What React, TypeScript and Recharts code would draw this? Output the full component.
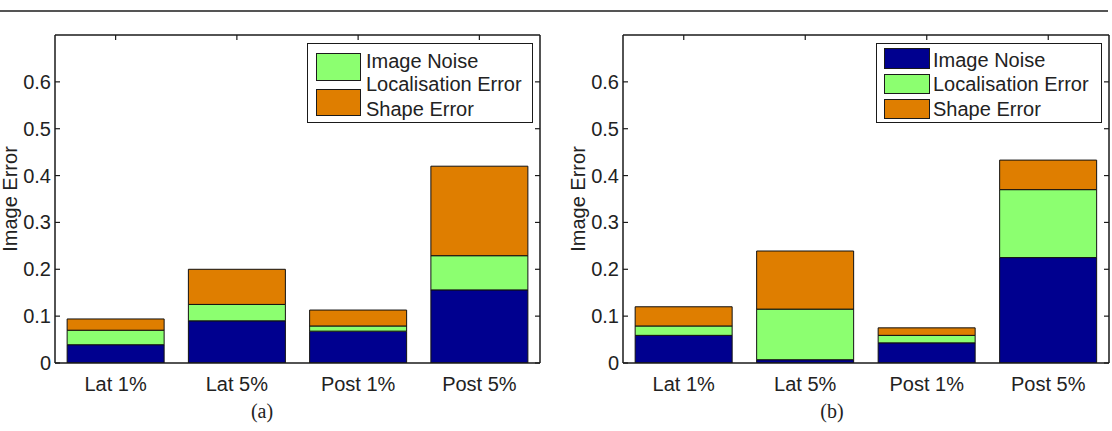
import React from "react";
import { BarChart, Bar, Line, XAxis, YAxis, Legend } from "recharts";

const categories = ["Lat 1%", "Lat 5%", "Post 1%", "Post 5%"];
const seriesNames = ["Image Noise", "Localisation Error", "Shape Error"];
const seriesColors = ["#00008F", "#8CFF70", "#DF7E00"];
const yTicks = [0, 0.1, 0.2, 0.3, 0.4, 0.5, 0.6];

// panel (a)
const noiseA = [0.039, 0.09, 0.068, 0.156];
const localA = [0.031, 0.035, 0.011, 0.073];
const shapeA = [0.024, 0.075, 0.034, 0.191];

// panel (b)
const noiseB = [0.059, 0.007, 0.043, 0.225];
const localB = [0.02, 0.108, 0.016, 0.145];
const shapeB = [0.041, 0.124, 0.016, 0.063];

const FONT = '"Liberation Sans", Arial, Helvetica, sans-serif';
const INK = "#1a1a1a";

const buildRows = (noise: number[], local: number[], shape: number[]) =>
    categories.map((name, i) => ({ name, noise: noise[i], local: local[i], shape: shape[i] }));

const LeftTick = (props: any) => {
    const { x, y, payload } = props;
    return <g>
        <line x1={x} x2={x + 5} y1={y} y2={y} stroke={INK} strokeWidth={1.2} />
        <text x={x - 4} y={y} textAnchor="end" dominantBaseline="central" fontSize={20} fontFamily={FONT} fill="#222">
            {String(payload.value)}
        </text>
    </g>;
};

const RightTick = (props: any) => {
    const { x, y } = props;
    return <line x1={x} x2={x - 5} y1={y} y2={y} stroke={INK} strokeWidth={1.2} />;
};

const TopTick = (props: any) => {
    const { x, y } = props;
    return <line x1={x} x2={x} y1={y} y2={y + 5} stroke={INK} strokeWidth={1.2} />;
};

const BottomTick = (props: any) => {
    const { x, y, payload } = props;
    return <text x={x} y={y + 21} textAnchor="middle" dominantBaseline="central" fontSize={20} fontFamily={FONT} fill="#222">
        {payload.value}
    </text>;
};

const YTitle = (props: any) => {
    const vb = props.viewBox;
    const cx = vb.x + vb.width - 45;
    const cy = vb.y + vb.height / 2;
    return <text x={cx} y={cy} transform={`rotate(-90, ${cx}, ${cy})`} textAnchor="middle" dominantBaseline="central"
        fontSize={20} fontFamily={FONT} fill="#222">Image Error</text>;
};

// legend rows; swatch boxes are placed per panel (panel a only shows two swatches)
type Swatch = { color: number; left: number; top: number; w: number; h: number };

const makeLegend = (swatches: Swatch[], textLeft: number, rowCentres: number[]) => (props: any) => {
    const payload = (props.payload || []).filter((p: any) => p.type !== "none");
    const colorOf = (i: number) => (payload[i] && payload[i].color) || seriesColors[i];
    return <div style={{ position: "relative", width: 226, height: 80, boxSizing: "border-box", border: `1.5px solid ${INK}`, background: "#fff", fontFamily: FONT, fontSize: 20, color: "#222" }}>
        {swatches.map((s, k) => <div key={k} style={{ position: "absolute", left: s.left, top: s.top, width: s.w, height: s.h, boxSizing: "border-box", background: colorOf(s.color), border: `1.5px solid ${INK}` }} />)}
        {seriesNames.map((n, i) => <div key={n} style={{ position: "absolute", left: textLeft, top: rowCentres[i] - 12, lineHeight: "24px", whiteSpace: "nowrap" }}>{n}</div>)}
    </div>;
};

const legendA = makeLegend([
    { color: 1, left: 8, top: 9, w: 45, h: 28 },
    { color: 2, left: 8, top: 45, w: 45, h: 27 },
], 58, [17, 40, 65]);

const legendB = makeLegend([
    { color: 0, left: 7, top: 4, w: 46, h: 21 },
    { color: 1, left: 7, top: 30, w: 46, h: 20 },
    { color: 2, left: 7, top: 55, w: 46, h: 20 },
], 56, [16, 40, 65]);

interface PanelProps {
    rows: any[];
    width: number;
    axisWidth: number;
    rightMargin: number;
    legendLeft: number;
    legend: (p: any) => React.ReactNode;
}

// top and right axes are 1px thick so they still render and close the frame
const Panel = ({ rows, width, axisWidth, rightMargin, legendLeft, legend }: PanelProps) => (
    <BarChart width={width} height={400} data={rows} barCategoryGap="10%"
        margin={{ top: 34, right: rightMargin - 1, bottom: 0, left: 0 }}>
        <XAxis dataKey="name" height={37} axisLine={{ stroke: INK, strokeWidth: 1.5 }} tickLine={false}
            tickSize={0} tickMargin={0} tick={<BottomTick />} interval={0} />
        <XAxis xAxisId="top" dataKey="name" orientation="top" height={1} axisLine={{ stroke: INK, strokeWidth: 1.5 }}
            tickLine={false} tickSize={0} tickMargin={0} tick={<TopTick />} interval={0} />
        <YAxis width={axisWidth} domain={[0, 0.7]} ticks={yTicks} axisLine={{ stroke: INK, strokeWidth: 1.5 }} tickLine={false}
            tickSize={0} tickMargin={0} tick={<LeftTick />} allowDataOverflow label={{ content: <YTitle /> }} />
        <YAxis yAxisId="r" orientation="right" width={1} domain={[0, 0.7]} ticks={yTicks} axisLine={{ stroke: INK, strokeWidth: 1.5 }}
            tickLine={false} tickSize={0} tickMargin={0} tick={<RightTick />} allowDataOverflow />
        <Legend layout="vertical" align="center" verticalAlign="middle" content={legend}
            wrapperStyle={{ left: legendLeft, top: 43, width: 226, height: 80 }} />
        <Bar dataKey="noise" name={seriesNames[0]} stackId="s" fill={seriesColors[0]} stroke="#111" strokeWidth={1} isAnimationActive={false} />
        <Bar dataKey="local" name={seriesNames[1]} stackId="s" fill={seriesColors[1]} stroke="#111" strokeWidth={1} isAnimationActive={false} />
        <Bar dataKey="shape" name={seriesNames[2]} stackId="s" fill={seriesColors[2]} stroke="#111" strokeWidth={1} isAnimationActive={false} />
        {/* unstroked series so the top and right frame axes get a scale */}
        <Line xAxisId="top" yAxisId="r" dataKey="noise" stroke="none" dot={false} activeDot={false}
            legendType="none" isAnimationActive={false} />
    </BarChart>
);

const captionStyle: React.CSSProperties = {
    position: "absolute", top: 398, width: 60, textAlign: "center",
    fontFamily: '"Liberation Serif", "DejaVu Serif", serif', fontSize: 20, color: "#222", lineHeight: "26px",
};

export default function App() {
    return <div style={{ position: "absolute", left: 0, top: 0, width: 1112, height: 431, overflow: "hidden", background: "#fff" }}>
        <div style={{ position: "absolute", left: 0, top: 10, width: 1108, height: 2, background: "#555" }} />
        <div style={{ position: "absolute", left: 0, top: 0 }}>
            <Panel rows={buildRows(noiseA, localA, shapeA)} width={560} axisWidth={55} rightMargin={20} legendLeft={307} legend={legendA} />
        </div>
        <div style={{ position: "absolute", left: 548, top: 0 }}>
            <Panel rows={buildRows(noiseB, localB, shapeB)} width={564} axisWidth={75} rightMargin={3} legendLeft={328} legend={legendB} />
        </div>
        <div style={{ ...captionStyle, left: 232 }}>(a)</div>
        <div style={{ ...captionStyle, left: 802 }}>(b)</div>
    </div>;
}
